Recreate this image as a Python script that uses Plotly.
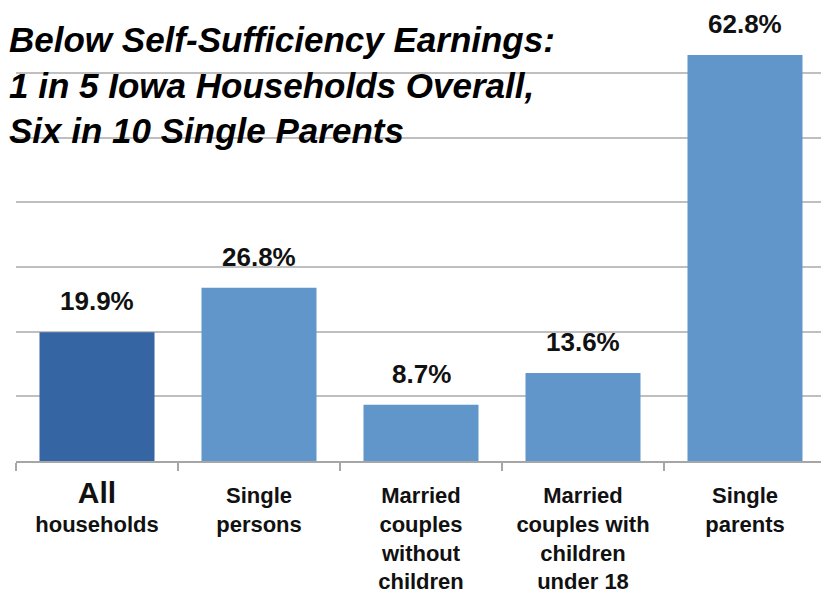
import plotly.graph_objects as go

categories = ["All households", "Single persons", "Married couples without children",
              "Married couples with children under 18", "Single parents"]
tick_labels = ["<span style='font-size:30px'>All</span><br>households",
               "Single<br>persons",
               "Married<br>couples<br>without<br>children",
               "Married<br>couples with<br>children<br>under 18",
               "Single<br>parents"]
values = [19.9, 26.8, 8.7, 13.6, 62.8]
value_labels = ["19.9%", "26.8%", "8.7%", "13.6%", "62.8%"]
bar_colors = ["#3565A3", "#6196CA", "#6196CA", "#6196CA", "#6196CA"]

title_text = ("Below Self-Sufficiency Earnings:<br>"
              "1 in 5 Iowa Households Overall,<br>"
              "Six in 10 Single Parents")

FONT = "Liberation Sans Narrow, Arial Narrow, Liberation Sans, Arial"

fig = go.Figure(go.Bar(
    x=categories, y=values,
    marker=dict(color=bar_colors, line=dict(width=0)),
    hoverinfo="skip",
))

for cat, v, lab in zip(categories, values, value_labels):
    fig.add_annotation(x=cat, y=v, text="<b>" + lab + "</b>", showarrow=False,
                       yanchor="bottom", yshift=15, borderpad=0,
                       font=dict(family=FONT, size=26, color="#111111"))

# white box behind the title, hides the gridlines
fig.add_shape(type="rect", xref="paper", yref="paper",
              x0=-0.02, x1=0.728, y0=0.56, y1=1.04,
              fillcolor="white", line=dict(width=0), layer="between")

fig.add_annotation(xref="paper", yref="paper", x=-0.0095, y=0.992,
                   xanchor="left", yanchor="top", align="left", borderpad=0,
                   text="<b><i>" + title_text + "</i></b>", showarrow=False,
                   font=dict(family=FONT, size=35, color="black"))

fig.update_xaxes(
    tickvals=categories, ticktext=["<b>" + t + "</b>" for t in tick_labels],
    tickson="boundaries", automargin=False,
    ticks="outside", ticklen=8, tickwidth=2, tickcolor="#A6A6A6",
    showline=True, linecolor="#A6A6A6", linewidth=2,
    tickfont=dict(family=FONT, size=22, color="#111111"),
    ticklabelstandoff=14,
    showgrid=False,
)
fig.update_yaxes(
    range=[0, 69], dtick=10, showticklabels=False, automargin=False,
    showgrid=True, gridcolor="#BFBFBF", gridwidth=2,
    zeroline=False,
)
# page body adds an 8px margin, so the figure is 8px smaller than the window
fig.update_layout(
    width=821, height=596,
    margin=dict(l=8, r=3, t=7, b=143),
    paper_bgcolor="white", plot_bgcolor="white",
    bargap=0.29, showlegend=False,
)

fig.write_html("out.html")
